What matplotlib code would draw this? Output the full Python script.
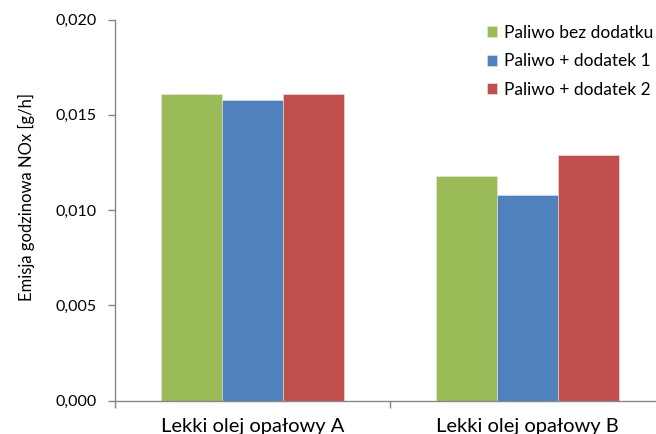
import matplotlib.pyplot as plt
import numpy as np
from matplotlib.ticker import FuncFormatter

plt.rcParams['font.family'] = ['Lato', 'DejaVu Sans']

categories = ['Lekki olej opałowy A', 'Lekki olej opałowy B']
series = ['Paliwo bez dodatku', 'Paliwo + dodatek 1', 'Paliwo + dodatek 2']
bez_dodatku = [0.0161, 0.0118]
dodatek_1 = [0.0158, 0.0108]
dodatek_2 = [0.0161, 0.0129]
colors = ['#9BBB59', '#4F81BD', '#C0504D']

fig = plt.figure(figsize=(6.56, 4.34), dpi=100)
ax = fig.add_axes([115 / 656, 33.5 / 434, 550 / 656, 381 / 434])

x = np.arange(len(categories))
w = 1 / 4.5
for i, (vals, name) in enumerate(zip([bez_dodatku, dodatek_1, dodatek_2], series)):
    ax.bar(x + (i - 1) * w, vals, w, color=colors[i], edgecolor='#e8e8e8',
           linewidth=0.4, label=name)

ax.set_xlim(-0.5, 1.5)
ax.set_ylim(0, 0.020)
ax.set_yticks([0, 0.005, 0.010, 0.015, 0.020])
ax.yaxis.set_major_formatter(FuncFormatter(lambda v, p: f'{v:.3f}'.replace('.', ',')))
ax.set_xticks(x)
ax.set_xticklabels(categories)
ax.set_xticks([-0.5, 0.5, 1.5], minor=True)
ax.tick_params(axis='x', which='major', length=0, pad=12.5, labelsize=14.5)
ax.tick_params(axis='x', which='minor', length=5, color='#868686', width=1)
ax.tick_params(axis='y', length=5, color='#868686', width=1, pad=8, labelsize=11.5)

for s in ['top', 'right']:
    ax.spines[s].set_visible(False)
for s in ['left', 'bottom']:
    ax.spines[s].set_color('#868686')
    ax.spines[s].set_linewidth(1)

ax.set_ylabel('Emisja godzinowa NOx [g/h]', fontsize=12)
ax.yaxis.set_label_coords(-0.145, 0.535)

ax.legend(loc='upper left', bbox_to_anchor=(487 / 656, 1 - 25 / 434),
          bbox_transform=fig.transFigure, frameon=False, fontsize=12.5,
          handlelength=0.6, handleheight=0.6, handletextpad=0.4,
          labelspacing=0.72, borderaxespad=0, borderpad=0)

fig.savefig('out.png', dpi=100)
